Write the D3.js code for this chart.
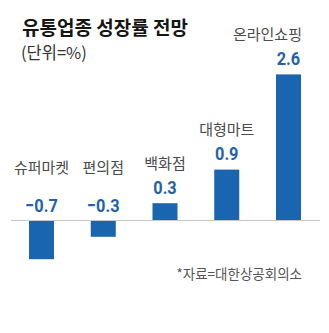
<!DOCTYPE html>
<html><head><meta charset="utf-8">
<script src="https://cdn.jsdelivr.net/npm/d3@7"></script>
<style>
html,body{margin:0;padding:0;background:#fff;}
svg{display:block;}
</style></head>
<body>
<script>
const categories = ["슈퍼마켓", "편의점", "백화점", "대형마트", "온라인쇼핑"];
const values = [-0.7, -0.3, 0.3, 0.9, 2.6];
const valueLabels = ["−0.7", "−0.3", "0.3", "0.9", "2.6"];
const title = "유통업종 성장률 전망";
const subtitle = "(단위=%)";
const source = "*자료=대한상공회의소";

const W = 329, H = 333;
const KR = "'Noto Sans CJK KR', 'Noto Sans', sans-serif";
const NUM = "Roboto, 'Liberation Sans', sans-serif";

const svg = d3.select("body").append("svg").attr("width", W).attr("height", H);
svg.append("rect").attr("width", W).attr("height", H).attr("fill", "#fff");

const x = d3.scaleBand().domain(categories).range([10, 320]).paddingInner(0.595).paddingOuter(0.308);
const y = d3.scaleLinear().domain([-0.7, 2.6]).range([259.2, 74.4]);

// title
svg.append("text").attr("x", 22).attr("y", 34.5).text(title)
  .attr("font-family", KR).attr("font-weight", 700).attr("font-size", 19).attr("fill", "#151515");
svg.append("text").attr("x", 21).attr("y", 58.5).text(subtitle)
  .attr("font-family", KR).attr("font-weight", 400).attr("font-size", 16.5).attr("fill", "#333");

// bars
svg.selectAll("rect.bar").data(values).enter().append("rect")
  .attr("class", "bar")
  .attr("x", (d, i) => x(categories[i]))
  .attr("width", x.bandwidth())
  .attr("y", d => y(Math.max(0, d)))
  .attr("height", d => Math.abs(y(d) - y(0)))
  .attr("fill", "#1a65b0");

// baseline
svg.append("line").attr("x1", 11).attr("x2", 320).attr("y1", y(0) + 0.5).attr("y2", y(0) + 0.5)
  .attr("stroke", "#c8c8c8").attr("stroke-width", 1);

// value labels
const valY = d => d >= 0 ? y(d) - 9.5 : y(0) - 8;
svg.selectAll("text.val").data(values).enter().append("text")
  .attr("class", "val")
  .attr("transform", (d, i) => `translate(${x(categories[i]) + x.bandwidth() / 2},${valY(d)}) scale(0.86,1)`)
  .attr("text-anchor", "middle")
  .attr("font-family", NUM).attr("font-weight", 700).attr("font-size", 19)
  .attr("fill", "#1f62aa")
  .text((d, i) => valueLabels[i]);

// category labels
svg.selectAll("text.cat").data(values).enter().append("text")
  .attr("class", "cat")
  .attr("x", (d, i) => i === categories.length - 1 ? x(categories[i]) + x.bandwidth() + 1 : x(categories[i]) + x.bandwidth() / 2)
  .attr("y", d => d >= 0 ? valY(d) - 25 : y(0) - 47.5)
  .attr("text-anchor", (d, i) => i === categories.length - 1 ? "end" : "middle")
  .attr("font-family", KR).attr("font-size", 15).attr("fill", "#4a4a4a")
  .text((d, i) => categories[i]);

// source
svg.append("text").attr("x", 302).attr("y", 279).attr("text-anchor", "end").text(source)
  .attr("font-family", KR).attr("font-size", 13.5).attr("fill", "#555");
</script>
</body></html>
